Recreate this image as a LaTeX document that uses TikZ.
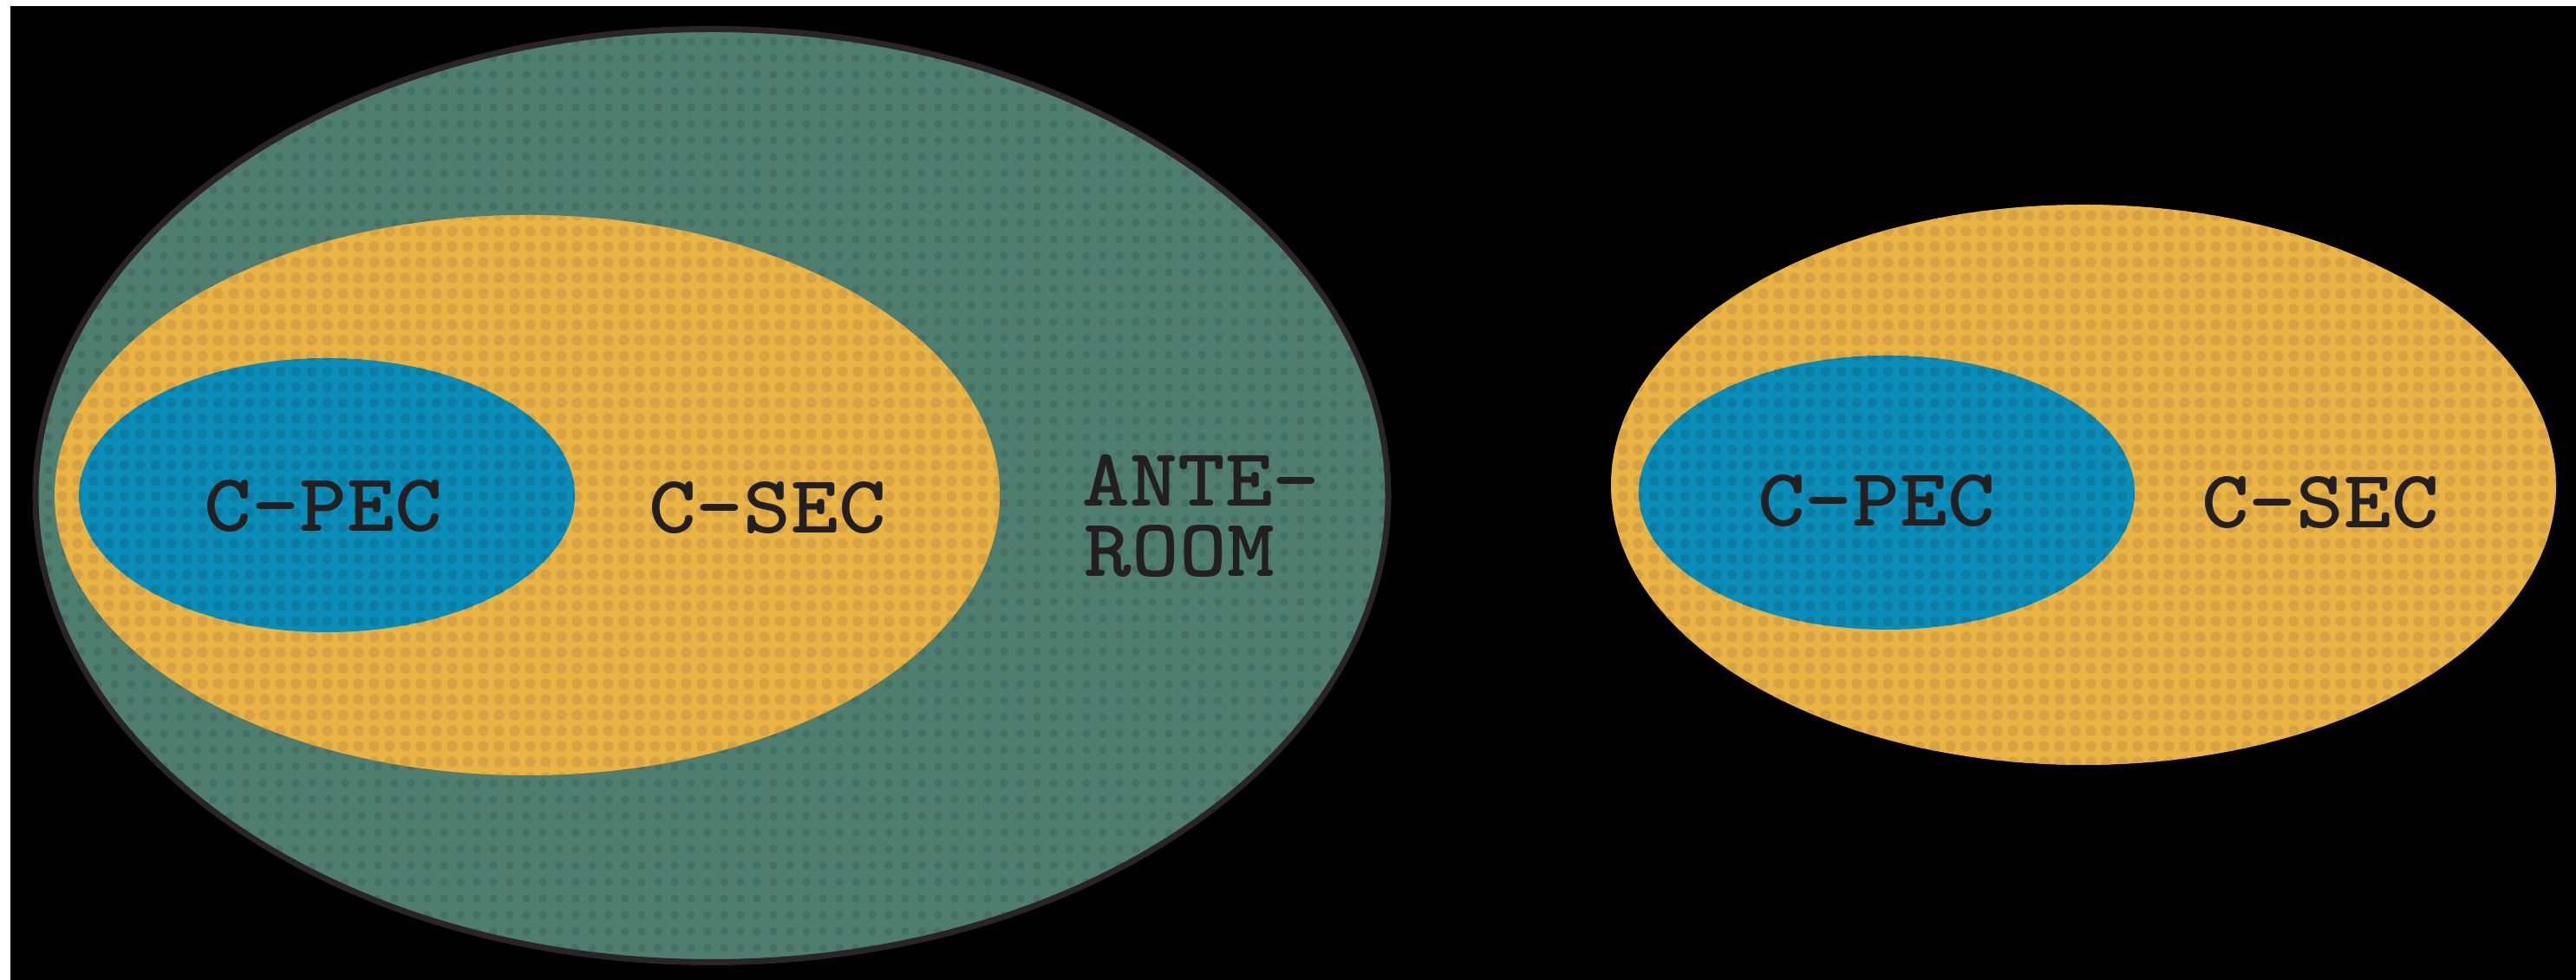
\documentclass[tikz,border=0pt]{standalone}
\usepackage{fontspec}
\usetikzlibrary{patterns.meta}
\definecolor{ink}{HTML}{231F20}
\definecolor{rim}{HTML}{2B2427}
\definecolor{wgreen}{HTML}{4F7E6F}
\definecolor{wgreendot}{HTML}{466F65}
\definecolor{wyellow}{HTML}{EAB445}
\definecolor{wyellowdot}{HTML}{D6A243}
\definecolor{wblue}{HTML}{0A8DB8}
\definecolor{wbluedot}{HTML}{0B7DA2}
\tikzset{
  lbl/.style={font=\ttfamily\bfseries\fontsize{27}{27}\selectfont, text=ink, inner sep=0pt, xscale=1.1, transform shape},
  greendots/.style={pattern={Dots[radius=0.5mm, distance=1.9mm]}, pattern color=wgreendot},
  yellowdots/.style={pattern={Dots[radius=0.65mm, distance=1.8mm]}, pattern color=wyellowdot},
  bluedots/.style={pattern={Dots[radius=0.6mm, distance=1.8mm]}, pattern color=wbluedot}
}

\begin{document}
\begin{tikzpicture}
  % page: black ground, thin white strips top and left
  \fill[black] (0,0) rectangle (29.71,11.30);
  \fill[white] (0,11.23) rectangle (29.71,11.30);
  \fill[white] (0,0) rectangle (0.12,11.30);
  \useasboundingbox (0,0) rectangle (29.71,11.30);

  % ante-room
  \fill[wgreen, postaction={greendots}] (8.21,5.585) ellipse [x radius=7.80, y radius=5.38];

  % the two C-SEC / C-PEC pairs
  \foreach \yx/\yy/\bx/\by in {6.08/5.59/3.77/5.59, 24.03/5.71/21.76/5.62}{
     \fill[wyellow, postaction={yellowdots}] (\yx,\yy) ellipse [x radius=5.45, y radius=3.23];
     \fill[wblue, postaction={bluedots}] (\bx,\by) ellipse [x radius=2.86, y radius=1.58];}

  \draw[rim, line width=2pt] (8.21,5.585) ellipse [x radius=7.80, y radius=5.38];

  \node[lbl] (pecL) at (3.73,5.46) {C-PEC};
  \node[lbl] (secL) at (8.85,5.44) {C-SEC};
  \node[lbl, anchor=west] (ante) at (12.48,5.76) {ANTE-};
  \node[lbl, anchor=west] (room) at (12.50,4.94) {ROOM};
  \node[lbl] (pecR) at (21.64,5.52) {C-PEC};
  \node[lbl] (secR) at (26.76,5.50) {C-SEC};
\end{tikzpicture}
\end{document}
